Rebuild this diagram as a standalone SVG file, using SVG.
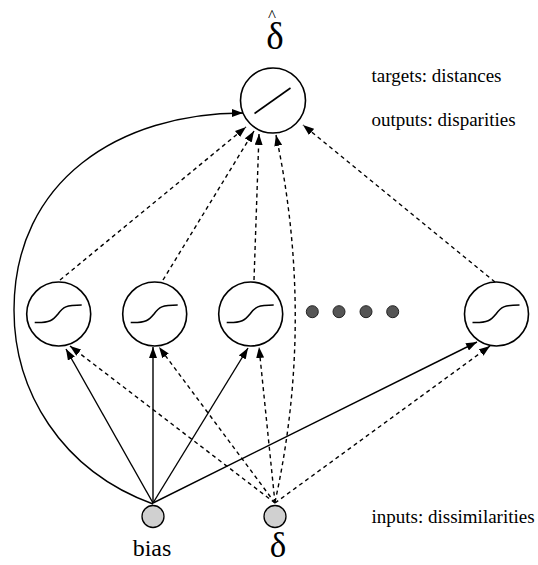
<svg xmlns="http://www.w3.org/2000/svg" width="538" height="565" viewBox="0 0 538 565">
<style>
.node{fill:#fff;stroke:#000;stroke-width:1.6}
.fn{fill:none;stroke:#000;stroke-width:1.6}
.inp{fill:#d0d0d0;stroke:#000;stroke-width:1.3}
.dot{fill:#555;stroke:#222;stroke-width:1}
.solid{fill:none;stroke:#000;stroke-width:1.4;marker-end:url(#ah)}
.dash{fill:none;stroke:#000;stroke-width:1.4;stroke-dasharray:4 3.5;marker-end:url(#ah)}
text{fill:#000}
</style>
<defs>
<marker id="ah" markerUnits="userSpaceOnUse" markerWidth="11" markerHeight="8" refX="11" refY="4" orient="auto">
<path d="M0,0 L11,4 L0,8 z" fill="#000"/>
</marker>
</defs>
<g id="connectors">
<path class="solid" d="M153,504 C60,470 14,390 14,310 C14,180 120,113 243,113"/>
<line class="dash" x1="60" y1="280" x2="246" y2="127"/>
<line class="dash" x1="163" y1="280" x2="254" y2="131"/>
<line class="dash" x1="254" y1="280" x2="259" y2="134"/>
<path class="dash" d="M275,502 Q315,320 276,135"/>
<line class="dash" x1="495" y1="282" x2="303" y2="125"/>
<line class="solid" x1="153" y1="503" x2="66" y2="349"/>
<line class="solid" x1="153" y1="503" x2="153" y2="347"/>
<line class="solid" x1="153" y1="503" x2="248" y2="348"/>
<line class="solid" x1="153" y1="503" x2="477" y2="342"/>
<line class="dash" x1="275" y1="503" x2="70" y2="346"/>
<line class="dash" x1="275" y1="503" x2="159" y2="347"/>
<line class="dash" x1="275" y1="503" x2="259" y2="347"/>
<line class="dash" x1="275" y1="503" x2="490" y2="346"/>
</g>
<g id="output">
<circle class="node" cx="273" cy="100.5" r="32.5"/>
<line class="fn" x1="254.5" y1="113.5" x2="290.5" y2="88"/>
<text font-family="'Liberation Serif', 'Times New Roman', serif" text-anchor="middle"><tspan x="272" y="21" font-size="17">^</tspan><tspan x="275" y="49" font-size="37">δ</tspan></text>
</g>
<g id="h1">
<circle class="node" cx="58.7" cy="314" r="32"/>
<path class="fn" d="M34.7,322.5 C50,323 53,320 58,314 C63,307 66,305 81.7,305"/>
</g>
<g id="h2">
<circle class="node" cx="154.7" cy="314" r="32"/>
<path class="fn" d="M130.7,322.5 C146,323 149,320 154,314 C159,307 162,305 177.7,305"/>
</g>
<g id="h3">
<circle class="node" cx="250.7" cy="314" r="32"/>
<path class="fn" d="M226.7,322.5 C242,323 245,320 250,314 C255,307 258,305 273.7,305"/>
</g>
<g id="h4">
<circle class="node" cx="496.5" cy="314" r="32"/>
<path class="fn" d="M472.5,322.5 C488,323 491,320 496,314 C501,307 504,305 519.5,305"/>
</g>
<g id="ellipsis">
<circle class="dot" cx="312.3" cy="311.7" r="6"/>
<circle class="dot" cx="339" cy="311.7" r="6"/>
<circle class="dot" cx="366" cy="311.7" r="6"/>
<circle class="dot" cx="392.7" cy="311.7" r="6"/>
</g>
<g id="bias">
<circle class="inp" cx="153" cy="516.5" r="11"/>
<text x="152" y="556" font-family="'Liberation Serif', 'Times New Roman', serif" font-size="24" text-anchor="middle">bias</text>
</g>
<g id="delta">
<circle class="inp" cx="275" cy="516.5" r="11"/>
<text x="278" y="557" font-family="'Liberation Serif', 'Times New Roman', serif" font-size="35" text-anchor="middle">δ</text>
</g>
<g id="labels" font-family="'Liberation Serif', 'Times New Roman', serif" font-size="19">
<text x="371.5" y="82">targets: distances</text>
<text x="371.5" y="126">outputs: disparities</text>
<text x="371.5" y="523">inputs: dissimilarities</text>
</g>
</svg>
